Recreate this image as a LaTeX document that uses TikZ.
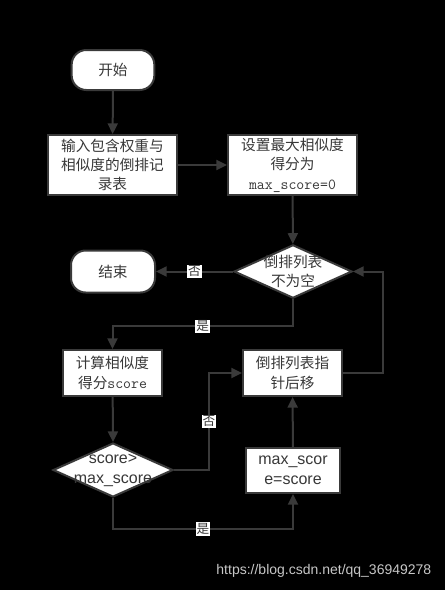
\documentclass[tikz,border=0pt]{standalone}
\usepackage{fontspec}
\setmainfont{Noto Sans CJK SC}
\newfontfamily\monof{Latin Modern Mono}
\newfontfamily\latinsans{Liberation Sans}
\usetikzlibrary{shapes.geometric,arrows.meta}
\definecolor{edgec}{HTML}{3A3A3A}
\definecolor{txt}{HTML}{383838}
\begin{document}
\begin{tikzpicture}[x=0.75pt,y=-0.75pt,
  box/.style={draw=edgec,line width=1.5pt,fill=white,text=txt,align=center,inner sep=1pt,
    font=\fontsize{11}{14.5}\selectfont},
  term/.style={box,rounded corners=11pt,minimum width=62pt,minimum height=30pt},
  dia/.style={draw=edgec,line width=1.5pt,fill=white,diamond,inner sep=0pt},
  diatext/.style={text=txt,align=center,font=\fontsize{11}{14.5}\selectfont},
  conn/.style={draw=edgec,line width=1.5pt,-{Triangle[length=8pt,width=7.5pt]}},
  lab/.style={fill=white,text=txt,inner sep=0.8pt,font=\fontsize{9.5}{11}\selectfont}]
\fill[black] (0,0) rectangle (445,590);
\useasboundingbox (0,0) rectangle (445,590);
\node[term] (start) at (113,70) {开始};
\node[box,minimum width=96.75pt,minimum height=45pt] (input) at (112.5,165) {输入包含权重与\\相似度的倒排记\\录表};
\node[box,minimum width=96.75pt,minimum height=45pt] (set) at (292.5,165) {设置最大相似度\\得分为\\{\monof\fontsize{11.5}{14.5}\selectfont max\_score=0}};
\node[dia,minimum width=88.5pt,minimum height=40pt] (d1) at (293,271.5) {};
\node[diatext] (d1t) at (d1.center) {倒排列表\\不为空};
\node[term,minimum width=63pt,minimum height=31.5pt] (end) at (113,271.5) {结束};
\node[box,minimum width=74.25pt,minimum height=34.5pt] (comp) at (112.5,373) {计算相似度\\得分{\monof\fontsize{11.5}{14.5}\selectfont score}};
\node[dia,minimum width=90pt,minimum height=40.5pt] (d2) at (113,470) {};
\node[diatext,font=\latinsans\fontsize{12}{15}\selectfont] (d2t) at (d2.center) {score>\\max\_score};
\node[box,minimum width=74.25pt,minimum height=34.5pt] (ptr) at (292.5,373) {倒排列表指\\针后移};
\node[box,minimum width=70.5pt,minimum height=33.75pt,font=\latinsans\fontsize{12}{15}\selectfont] (maxs) at (293,470.5) {max\_scor\\e=score};
\node[text=white!78!black,font=\latinsans\fontsize{10.5}{12}\selectfont,anchor=east] (wm) at (436,571) {https://blog.csdn.net/qq\_36949278};
\draw[conn] (start) -- (input);
\draw[conn] (input) -- (set);
\draw[conn] (set) -- (d1);
\draw[conn] (d1) -- node[lab]{否} (end);
\draw[conn] (d1.south) -- ++(0,27) -| node[lab,pos=0.25]{是} (comp.north);
\draw[conn] (comp) -- (d2.north);
\draw[conn] (d2.east) -- ++(35,0) |- node[lab,pos=0.25]{否} (ptr.west);
\draw[conn] (d2.south) -- ++(0,31) -| node[lab,pos=0.25]{是} (maxs.south);
\draw[conn] (maxs) -- (ptr);
\draw[conn] (ptr.east) -- ++(40,0) |- (d1.east);
\end{tikzpicture}
\end{document}
